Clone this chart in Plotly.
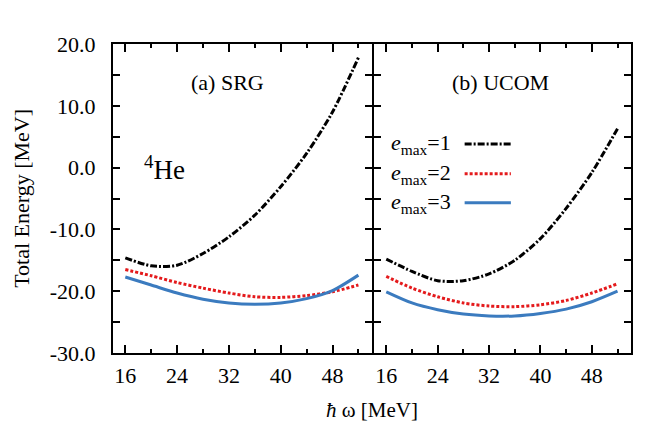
"""4He total energy vs hbar-omega, SRG and UCOM panels"""

import plotly.graph_objects as go
from plotly.subplots import make_subplots

hw = [16, 20, 24, 28, 32, 36, 40, 44, 48, 52]

srg_e1 = [-14.6, -15.9, -15.8, -13.9, -11.2, -7.7, -3.1, 2.3, 9.0, 17.8]
srg_e2 = [-16.5, -17.5, -18.6, -19.5, -20.3, -20.9, -21.0, -20.7, -20.1, -19.0]
srg_e3 = [-17.7, -19.0, -20.3, -21.3, -21.9, -22.1, -21.9, -21.2, -19.9, -17.4]

ucom_e1 = [-14.8, -16.8, -18.3, -18.3, -17.2, -15.0, -11.5, -6.6, -0.8, 6.3]
ucom_e2 = [-17.6, -19.5, -20.9, -21.9, -22.4, -22.5, -22.2, -21.5, -20.3, -18.8]
ucom_e3 = [-20.1, -21.9, -23.0, -23.7, -24.0, -24.0, -23.6, -22.9, -21.7, -20.0]

series_labels = ["<i>e</i><sub>max</sub>=1", "<i>e</i><sub>max</sub>=2", "<i>e</i><sub>max</sub>=3"]

x_major = [16, 24, 32, 40, 48]
x_minor = [20, 28, 36, 44, 52]
y_major = [-30, -20, -10, 0, 10, 20]
y_text = ["-30.0", "-20.0", "-10.0", "0.0", "10.0", "20.0"]
y_minor = [-25, -15, -5, 5, 15]

FONT = "Liberation Serif"
styles = [
    dict(color="black", width=3, dash="7px,2px,2px,2px"),
    dict(color="#e41a1c", width=3, dash="3px,2px"),
    dict(color="#3b7bbf", width=3),
]

fig = make_subplots(rows=1, cols=2, shared_yaxes=True, horizontal_spacing=0)

for col, curves in ((1, [srg_e1, srg_e2, srg_e3]), (2, [ucom_e1, ucom_e2, ucom_e3])):
    for ys, st, lab in zip(curves, styles, series_labels):
        fig.add_trace(go.Scatter(
            x=hw, y=ys, mode="lines", name=lab, showlegend=False,
            line=dict(shape="spline", smoothing=0.8, **st),
        ), row=1, col=col)

axis_common = dict(
    showline=True, linewidth=2, linecolor="black", mirror="ticks",
    ticks="inside", tickwidth=1.5, tickcolor="black",
    showgrid=False, zeroline=False, automargin=False,
    tickfont=dict(family=FONT, size=22, color="black"),
)
for c in (1, 2):
    fig.update_xaxes(range=[14.1, 54.1], tickvals=x_major, ticklen=8,
                     minor=dict(tickvals=x_minor, ticklen=4, tickwidth=1.5, tickcolor="black", ticks="inside"),
                     ticklabelstandoff=2, row=1, col=c, **axis_common)
    fig.update_yaxes(range=[-30, 20], tickvals=y_major, ticktext=y_text, ticklen=7,
                     minor=dict(tickvals=y_minor, ticklen=7, tickwidth=1.5, tickcolor="black", ticks="inside"),
                     ticklabelstandoff=11, row=1, col=c, **axis_common)

# close the two panels so their shared edge is a single line
fig.update_layout(xaxis=dict(domain=[0, 0.5]), xaxis2=dict(domain=[0.504, 1]))

fig.add_annotation(text="Total Energy [MeV]", x=-0.177, y=0.5, xref="paper", yref="paper",
                   textangle=-90, showarrow=False, xanchor="center", yanchor="middle",
                   font=dict(family=FONT, size=22, color="black"))
fig.add_annotation(text="<i>ħ</i> ω [MeV]", x=0.5, y=-0.185, xref="paper", yref="paper",
                   showarrow=False, yanchor="middle",
                   font=dict(family=FONT, size=21, color="black"))

fig.add_annotation(text="(a) SRG", x=31.8, y=13.7, xref="x", yref="y", showarrow=False,
                   font=dict(family=FONT, size=22, color="black"))
fig.add_annotation(text="(b) UCOM", x=33.8, y=13.7, xref="x2", yref="y2", showarrow=False,
                   font=dict(family=FONT, size=22, color="black"))
fig.add_annotation(text="<sup>4</sup>He", x=22.0, y=0.0, xref="x", yref="y", showarrow=False,
                   font=dict(family=FONT, size=27, color="black"))

# manual legend: text on the left, line sample on the right
legend_y = [3.8, -1.0, -5.7]
for lab, st, ly in zip(series_labels, styles, legend_y):
    fig.add_annotation(text=lab, x=16.4, y=ly, xref="x2", yref="y2", showarrow=False,
                       xanchor="left", yanchor="middle",
                       font=dict(family=FONT, size=22, color="black"))
    fig.add_shape(type="line", x0=28.2, x1=35.4, y0=ly, y1=ly, xref="x2", yref="y2",
                  line=st)

# the page body adds an 8px offset, so the figure is 8px smaller on each side
fig.update_layout(
    width=656, height=435,
    margin=dict(l=105, r=33, t=36, b=90),
    plot_bgcolor="white", paper_bgcolor="white",
    showlegend=False,
)
fig.write_html("out.html")
